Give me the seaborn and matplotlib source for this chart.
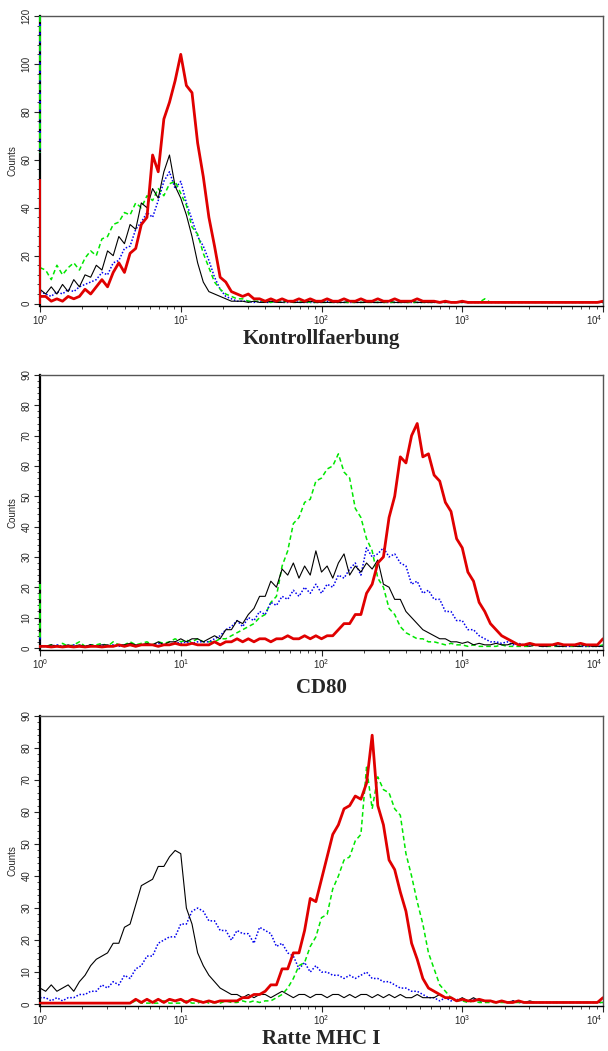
import numpy as np
import matplotlib
matplotlib.use("Agg")
import matplotlib.pyplot as plt
import seaborn as sns
from matplotlib.ticker import FixedLocator, LogLocator, MultipleLocator, NullFormatter

sns.set_style("ticks")
plt.rcParams['font.family'] = ['Liberation Sans', 'DejaVu Sans']
plt.rcParams['mathtext.fontset'] = 'custom'
plt.rcParams['mathtext.rm'] = 'Liberation Sans'
plt.rcParams['mathtext.default'] = 'regular'

# channel grid: 101 channels, 0.04 decade apart, from 10^0 to 10^4
channel_decade = np.round(np.arange(101) * 0.04, 2)
channel = 10 ** channel_decade

decade_ticks = [1, 10, 100, 1000, 10000]
decade_labels = ['$10^{0}$', '$10^{1}$', '$10^{2}$', '$10^{3}$', '$10^{4}$']

# counts piled up in the very first channel (off-scale ones cut at the top)
kontroll_first = {'blue': 120, 'green': 120, 'black': 63, 'red': 52}
cd80_first = {'blue': 4, 'green': 21, 'black': 2, 'red': 1}
mhc_first = {'blue': 45, 'green': 0.3, 'black': 48, 'red': 0.5}

# ---- Kontrollfaerbung ----
kontroll_red = [3, 3, 1, 2, 1, 3, 2, 3, 6, 4,
                7, 10, 7, 13, 17, 13, 21, 23, 33, 36,
                62, 55, 77, 84, 93, 104, 91, 88, 67, 53,
                36, 24, 11, 9, 5, 4, 3, 4, 2, 2,
                1, 2, 1, 2, 1, 1, 2, 1, 2, 1,
                1, 2, 1, 1, 2, 1, 1, 2, 1, 1,
                2, 1, 1, 2, 1, 1, 1, 2, 1, 1,
                1, 0.5, 1, 0.5, 0.5, 1, 0.5, 0.5, 0.5, 0.5,
                0.5, 0.5, 0.5, 0.5, 0.5, 0.5, 0.5, 0.5, 0.5, 0.5,
                0.5, 0.5, 0.5, 0.5, 0.5, 0.5, 0.5, 0.5, 0.5, 0.5,
                1]
kontroll_black = [6, 4, 7, 4, 8, 5, 10, 7, 12, 11,
                  16, 14, 22, 20, 28, 25, 33, 31, 42, 40,
                  48, 44, 55, 62, 49, 44, 37, 28, 17, 9,
                  5, 4, 3, 2, 1, 1, 1, 0.5, 1, 0.5,
                  0.5, 1, 0.5, 0.5, 1, 0.5, 0.5, 0.5, 1, 0.5,
                  0.5, 0.5, 0.5, 0.5, 0.5, 1, 0.5, 0.5, 0.5, 0.5,
                  0.5, 0.5, 1, 0.5, 0.5, 0.5, 1, 0.5, 0.5, 0.5,
                  0.5, 0.5, 0.5, 0.5, 0.5, 0.5, 0.5, 0.5, 0.5, 0.5,
                  0.5, 0.5, 0.5, 0.5, 0.5, 0.5, 0.5, 0.5, 0.5, 0.5,
                  0.5, 0.5, 0.5, 0.5, 0.5, 0.5, 0.5, 0.5, 0.5, 0.5,
                  0.5]
kontroll_green = [15, 14, 10, 16, 12, 15, 17, 14, 19, 22,
                  20, 27, 28, 33, 34, 38, 37, 42, 40, 45,
                  43, 48, 45, 50, 51, 46, 41, 32, 29, 21,
                  15, 9, 6, 4, 3, 2, 2, 1, 1, 1,
                  1, 0.5, 1, 0.5, 1, 0.5, 0.5, 1, 0.5, 0.5,
                  0.5, 0.5, 0.5, 0.5, 0.5, 0.5, 0.5, 0.5, 0.5, 0.5,
                  0.5, 0.5, 0.5, 0.5, 0.5, 0.5, 0.5, 0.5, 0.5, 0.5,
                  0.5, 0.5, 0.5, 0.5, 0.5, 0.5, 0.5, 0.5, 0.5, 2,
                  0.5, 0.5, 0.5, 0.5, 0.5, 0.5, 0.5, 0.5, 0.5, 0.5,
                  0.5, 0.5, 0.5, 0.5, 0.5, 0.5, 0.5, 0.5, 0.5, 0.5,
                  0.5]
kontroll_blue = [5, 4, 3, 5, 4, 6, 5, 7, 8, 9,
                 10, 13, 12, 17, 18, 23, 24, 31, 34, 38,
                 36, 43, 51, 55, 48, 51, 42, 35, 28, 24,
                 18, 11, 6, 3, 2, 1, 1, 1, 0.5, 1,
                 0.5, 0.5, 1, 0.5, 0.5, 1, 0.5, 0.5, 0.5, 0.5,
                 0.5, 1, 0.5, 0.5, 0.5, 0.5, 0.5, 0.5, 1, 0.5,
                 0.5, 0.5, 0.5, 0.5, 0.5, 0.5, 0.5, 0.5, 0.5, 0.5,
                 0.5, 0.5, 0.5, 0.5, 0.5, 0.5, 0.5, 0.5, 0.5, 0.5,
                 0.5, 0.5, 0.5, 0.5, 0.5, 0.5, 0.5, 0.5, 0.5, 0.5,
                 0.5, 0.5, 0.5, 0.5, 0.5, 0.5, 0.5, 0.5, 0.5, 0.5,
                 0.5]

# ---- CD80 ----
cd80_red = [0.5, 0.5, 0.3, 0.5, 0.3, 0.5, 0.3, 0.5, 0.3, 0.5,
            0.5, 0.3, 0.5, 0.5, 1, 0.5, 1, 0.5, 1, 1,
            1, 0.5, 1, 1, 1.5, 1, 1, 1.5, 1, 1,
            1, 2, 1, 2, 2, 3, 2, 3, 2, 3,
            3, 2, 3, 3, 4, 3, 3, 4, 3, 4,
            3, 4, 4, 6, 8, 8, 11, 11, 18, 21,
            28, 30, 43, 50, 63, 61, 70, 74, 63, 64,
            57, 55, 48, 45, 36, 33, 25, 22, 15, 12,
            8, 6, 4, 3, 2, 1, 1, 1.5, 1, 1,
            1, 1, 1.5, 1, 1, 1, 1.5, 1, 1, 1,
            3]
cd80_black = [0.5, 0.5, 1, 0.5, 0.5, 1, 0.5, 1, 0.5, 1,
              0.5, 1, 1, 0.5, 1, 1, 1.5, 1, 1, 1.5,
              1, 2, 1, 2, 2, 3, 2, 3, 3, 2,
              3, 4, 3, 6, 6, 9, 8, 11, 13, 17,
              17, 22, 20, 26, 24, 28, 23, 27, 24, 32,
              25, 27, 23, 28, 31, 24, 27, 25, 28, 26,
              29, 21, 20, 16, 16, 12, 10, 8, 6, 5,
              4, 3, 3, 2, 2, 1.5, 2, 1, 1.5, 1,
              1, 1.5, 1, 1, 1.5, 1, 1, 0.5, 1, 0.5,
              0.5, 1, 0.5, 0.5, 1, 0.5, 0.5, 1, 0.5, 0.5,
              0.5]
cd80_green = [0.5, 0.5, 1, 0.5, 1.5, 0.5, 1, 2, 0.5, 1,
              1, 1.5, 0.5, 2, 1, 1, 2, 1, 1.5, 2,
              1, 2, 1.5, 2, 3, 2, 2.5, 2, 3, 2,
              2, 2, 3, 3, 4, 5, 6, 7, 8, 10,
              11, 15, 17, 27, 32, 41, 43, 48, 49, 55,
              56, 59, 60, 64, 58, 56, 46, 43, 36, 32,
              23, 20, 13, 11, 7, 5, 4, 3, 3, 2,
              2, 1.5, 1, 1.5, 1, 1, 0.5, 1, 0.5, 0.5,
              0.5, 0.5, 1, 0.5, 0.5, 0.5, 0.5, 0.5, 1, 0.5,
              0.5, 0.5, 0.5, 0.5, 0.5, 0.5, 0.5, 0.5, 0.5, 0.5,
              1]
cd80_blue = [0.5, 0.5, 0.5, 1, 0.5, 0.5, 1, 0.5, 0.5, 1,
             0.5, 1, 0.5, 1, 0.5, 1, 1, 0.5, 1, 1,
             1, 1.5, 1, 1, 2, 1.5, 2, 1.5, 2, 2,
             2, 3, 4, 6, 7, 9, 7, 10, 9, 12,
             11, 15, 14, 17, 16, 19, 17, 20, 18, 21,
             18, 21, 20, 24, 23, 26, 28, 24, 33, 30,
             31, 33, 30, 31, 28, 27, 21, 22, 18, 19,
             16, 16, 12, 12, 9, 9, 6, 6, 4, 3,
             2, 2, 1.5, 2, 1, 1.5, 1, 1, 1, 0.5,
             0.5, 1, 0.5, 0.5, 0.5, 1, 0.5, 0.5, 0.5, 0.5,
             0.5]

# ---- Ratte MHC I ----
mhc_red = [0.3, 0.3, 0.3, 0.3, 0.3, 0.3, 0.3, 0.3, 0.3, 0.3,
           0.3, 0.3, 0.3, 0.3, 0.3, 0.3, 0.3, 1.5, 0.5, 1.5,
           0.5, 1.5, 0.5, 1.5, 1, 1.5, 0.5, 1.5, 1, 0.5,
           1, 0.5, 1, 1, 1, 1, 2, 2, 3, 3,
           4, 6, 6, 11, 11, 16, 16, 23, 33, 32,
           39, 46, 53, 56, 61, 62, 65, 64, 69, 84,
           62, 56, 45, 42, 35, 29, 19, 14, 8, 5,
           4, 3, 2, 2, 1, 1.5, 1, 1, 1.5, 1,
           1, 0.5, 1, 0.5, 0.5, 1, 0.5, 0.5, 0.5, 0.5,
           0.5, 0.5, 0.5, 0.5, 0.5, 0.5, 0.5, 0.5, 0.5, 0.5,
           2]
mhc_black = [5, 4, 6, 4, 5, 6, 4, 7, 9, 12,
             14, 15, 16, 19, 19, 24, 25, 31, 37, 38,
             39, 43, 43, 46, 48, 47, 30, 25, 16, 12,
             9, 7, 5, 4, 3, 3, 2, 3, 2, 3,
             3, 2, 3, 4, 3, 2, 3, 3, 2, 3,
             3, 2, 3, 3, 2, 3, 2, 3, 3, 2,
             3, 2, 3, 2, 3, 2, 2, 3, 2, 2,
             2, 3, 2, 2, 1, 2, 1, 2, 1, 1,
             1, 0.5, 1, 0.5, 1, 0.5, 0.5, 1, 0.5, 0.5,
             0.5, 0.5, 0.5, 0.5, 0.5, 0.5, 0.5, 0.5, 0.5, 0.5,
             0.5]
mhc_green = [0.3, 0.3, 0.3, 0.3, 0.3, 0.3, 0.3, 0.3, 0.3, 0.3,
             0.3, 0.3, 0.3, 0.3, 0.3, 0.3, 0.3, 1, 0.3, 0.3,
             0.3, 0.3, 1, 0.3, 0.3, 0.3, 1, 0.3, 0.3, 1,
             0.3, 0.5, 0.3, 1, 0.5, 0.5, 1, 0.5, 1, 0.5,
             1, 1, 2, 3, 5, 8, 12, 13, 18, 21,
             27, 28, 36, 40, 45, 46, 51, 53, 74, 61,
             71, 67, 66, 61, 59, 47, 40, 32, 25, 16,
             11, 6, 4, 2, 1, 1, 0.5, 1, 0.5, 0.5,
             0.5, 0.5, 0.5, 0.5, 0.5, 0.5, 0.5, 0.5, 0.5, 0.5,
             0.5, 0.5, 0.5, 0.5, 0.5, 0.5, 0.5, 0.5, 0.5, 0.5,
             0.5]
mhc_blue = [2, 2, 1, 2, 1, 2, 2, 3, 3, 4,
            4, 6, 5, 7, 6, 9, 8, 11, 12, 15,
            15, 19, 20, 21, 21, 25, 25, 29, 30, 29,
            26, 26, 23, 23, 20, 23, 22, 22, 19, 24,
            23, 22, 18, 19, 16, 15, 11, 13, 10, 12,
            10, 10, 9, 9, 8, 9, 8, 9, 10, 8,
            8, 7, 7, 6, 5, 5, 4, 4, 3, 2,
            2, 1, 2, 1, 1.5, 1, 1, 1.5, 1, 1,
            1, 0.5, 1, 0.5, 1, 0.5, 0.5, 0.5, 0.5, 0.5,
            0.5, 0.5, 0.5, 0.5, 0.5, 0.5, 0.5, 0.5, 0.5, 0.5,
            0.5]

W, H = 608, 1051
fig = plt.figure(figsize=(W / 100, H / 100), dpi=100)

styles = {
    'red': dict(color='#e00000', lw=2.0, ls='-'),
    'black': dict(color='black', lw=0.8, ls='-'),
    'green': dict(color='#00e600', lw=1.1, ls=(0, (3, 2))),
    'blue': dict(color='#0000ee', lw=1.1, ls=(0, (1, 1.2))),
}

# (title, top px, bottom px, ylim, major step, minor step, curves in drawing order, first channel, title y px)
panels = [
    ("Kontrollfaerbung", 16, 306, (-1, 120), 20, 4,
     [('blue', kontroll_blue), ('green', kontroll_green), ('black', kontroll_black), ('red', kontroll_red)],
     kontroll_first, 339),
    ("CD80", 375, 650, (-0.7, 90), 10, 2,
     [('green', cd80_green), ('blue', cd80_blue), ('black', cd80_black), ('red', cd80_red)],
     cd80_first, 688),
    ("Ratte MHC I", 716, 1006, (-0.6, 90), 10, 2,
     [('blue', mhc_blue), ('black', mhc_black), ('green', mhc_green), ('red', mhc_red)],
     mhc_first, 1039),
]

left, right = 40, 603
for title, top, bottom, ylim, major, minor, curves, first, ty in panels:
    ax = fig.add_axes([left / W, 1 - bottom / H, (right - left) / W, (bottom - top) / H])
    for name, arr in curves:
        st = styles[name]
        sns.lineplot(x=channel, y=np.array(arr, dtype=float), ax=ax, color=st['color'],
                     linewidth=st['lw'], linestyle=st['ls'], legend=False)
    ax.set_xscale('log')
    ax.set_xlim(1, 10000)
    ax.set_ylim(*ylim)
    ax.spines['left'].set_linewidth(1.6)
    ax.spines['left'].set_color('black')
    # first-channel pile-up, drawn right on the left axis line
    for name, _ in curves:
        st = styles[name]
        ax.vlines(1, 0, first[name], colors=st['color'], linewidth=1.4,
                  linestyles=st['ls'], zorder=3, clip_on=False)
    ax.xaxis.set_major_locator(FixedLocator(decade_ticks))
    ax.set_xticklabels(decade_labels, fontsize=7)
    ax.get_xticklabels()[-1].set_ha('right')
    ax.xaxis.set_minor_locator(LogLocator(base=10, subs=np.arange(2, 10)))
    ax.xaxis.set_minor_formatter(NullFormatter())
    ax.yaxis.set_major_locator(MultipleLocator(major))
    ax.yaxis.set_minor_locator(MultipleLocator(minor))
    ax.tick_params(axis='x', which='major', length=4, width=0.8, pad=1, direction='out')
    ax.tick_params(axis='x', which='minor', length=2.5, width=0.6, direction='out')
    ax.tick_params(axis='y', which='major', length=4, width=0.8, labelsize=7,
                   labelrotation=90, pad=2, direction='out')
    ax.tick_params(axis='y', which='minor', length=2, width=0.6, direction='out')
    for lab in ax.get_yticklabels():
        lab.set_va('center')
    ax.set_ylabel('Counts', fontsize=7, labelpad=3)
    ax.set_xlabel('')
    ax.spines['bottom'].set_linewidth(1.0)
    ax.spines['bottom'].set_color('black')
    for s in ['top', 'right']:
        ax.spines[s].set_visible(True)
        ax.spines[s].set_color('#555555')
        ax.spines[s].set_linewidth(1.0)
    ax.set_facecolor('white')
    fig.text(321 / W, 1 - ty / H, title, ha='center', va='center',
             fontsize=15, fontweight='bold', family=['Liberation Serif', 'DejaVu Serif'])

fig.savefig('out.png', dpi=100, facecolor='white')
